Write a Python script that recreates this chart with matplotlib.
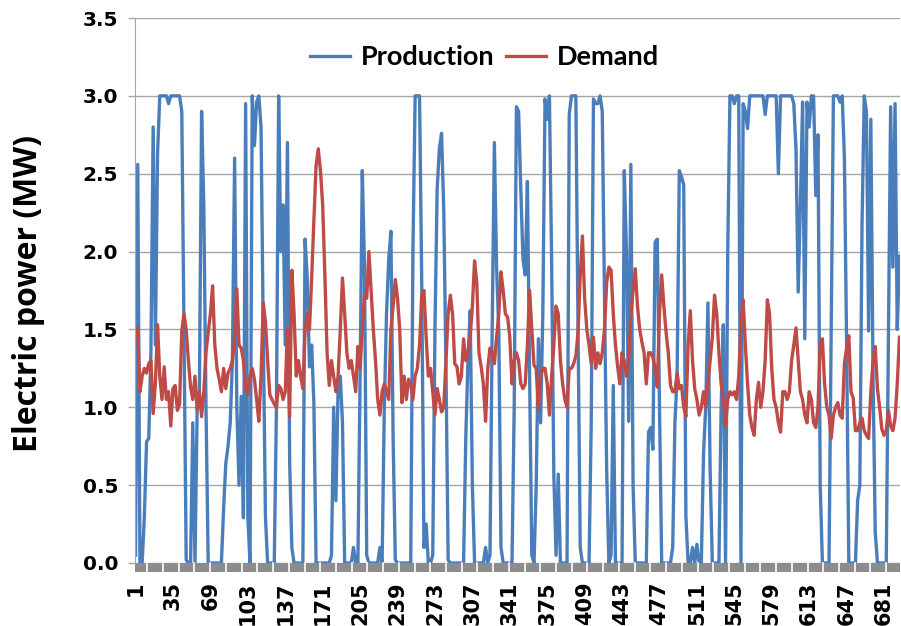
import numpy as np
import matplotlib
matplotlib.use('Agg')
import matplotlib.pyplot as plt
from matplotlib.patches import Rectangle

# hourly readings, every second hour (hours 1, 3, 5, ... 695), MW
production = [
    0.05, 2.56, 0.0, 0.0, 0.3, 0.78, 0.8, 1.37, 2.8, 1.4, 2.63, 3.0, 3.0, 3.0, 3.0, 2.95,
    3.0, 3.0, 3.0, 3.0, 3.0, 2.9, 1.5, 0.02, 0.0, 0.0, 0.9, 0.0, 1.0, 1.1, 2.9, 2.3,
    1.0, 0.0, 0.0, 0.0, 0.0, 0.0, 0.0, 0.0, 0.35, 0.64, 0.75, 0.9, 1.3, 2.6, 1.0, 0.5,
    1.07, 0.29, 2.95, 0.3, 0.0, 3.0, 2.68, 2.96, 3.0,
    2.8, 1.5, 0.3, 0.0, 0.0, 0.0, 0.0, 1.0, 3.0, 2.0, 2.3, 1.4, 2.7, 0.65, 0.1, 0.0,
    0.0, 0.0, 0.0, 0.0, 2.08, 1.83, 1.26, 1.4, 1.03, 0.0, 0.0, 0.0, 0.0, 0.0, 0.0, 0.0,
    0.05, 1.0, 0.4, 1.12, 1.2, 0.9, 0.0, 0.0, 0.0, 0.0, 0.1, 0.0, 0.0, 1.2, 2.52, 1.9,
    0.05, 0.0, 0.0, 0.0, 0.0, 0.0, 0.1, 0.0, 1.0, 1.6, 1.95,
    2.13, 0.8, 0.02, 0.0, 0.0, 0.0, 0.0, 0.0, 0.0, 0.0, 2.0, 3.0, 3.0, 3.0, 1.8, 0.1,
    0.25, 0.0, 0.0, 0.05, 1.5, 2.4, 2.66, 2.76, 2.27, 1.26, 0.02, 0.0, 0.0, 0.0, 0.0, 0.0,
    0.0, 0.0, 0.8, 1.3, 1.62, 0.5, 0.0, 0.0, 0.0, 0.0, 0.0, 0.1, 0.0, 0.05, 1.5, 2.7,
    1.9, 1.49, 0.1, 0.0, 0.0, 0.0, 0.0, 0.0, 1.0, 2.93, 2.9,
    2.4, 1.95, 1.85, 2.45, 1.2, 0.05, 0.0, 0.5, 1.44, 0.9, 1.6, 2.98, 2.85, 3.0, 1.94, 0.57,
    0.05, 0.57, 0.0, 0.0, 0.0, 0.0, 2.88, 3.0, 3.0, 3.0, 1.5, 0.1, 0.0, 0.0, 0.0, 0.0,
    0.91, 2.98, 2.95, 2.95, 3.0, 2.9, 1.72, 0.6, 0.0, 0.05, 1.14, 0.0, 0.0, 0.0, 0.0, 2.52,
    2.0, 0.91, 2.56, 0.5, 0.0, 0.0, 0.0, 0.0, 0.0, 0.0, 0.84,
    0.87, 0.73, 2.06, 2.08, 1.0, 0.0, 0.0, 0.0, 0.0, 0.0, 0.1, 0.9, 1.2, 2.52, 2.48, 2.43,
    0.3, 0.0, 0.0, 0.1, 0.0, 0.12, 0.0, 0.0, 0.7, 1.0, 1.67, 0.6, 0.0, 0.0, 0.0, 0.0,
    1.0, 1.53, 0.0, 2.0, 3.0, 3.0, 2.95, 3.0, 3.0, 0.0, 2.95, 2.9, 2.79, 3.0, 3.0, 3.0,
    3.0, 3.0, 3.0, 3.0, 2.88, 3.0, 3.0, 3.0, 3.0, 3.0, 2.5,
    3.0, 3.0, 3.0, 3.0, 3.0, 3.0, 2.95, 2.66, 1.74, 2.3, 2.96, 1.44, 2.96, 2.8, 3.0, 3.0,
    2.36, 2.75, 0.5, 0.0, 0.0, 0.0, 0.0, 1.5, 3.0, 3.0, 3.0, 2.96, 3.0, 2.6, 1.4, 0.0,
    0.0, 0.0, 0.0, 0.4, 0.5, 2.17, 3.0, 2.9, 1.49, 2.85, 1.2, 0.2, 0.0, 0.0, 0.0, 0.0,
    0.0, 1.5, 2.93, 1.9, 2.95, 1.5, 1.97,
]

demand = [
    1.45, 1.51, 1.1, 1.2, 1.25, 1.22, 1.28, 1.3, 0.96, 1.15, 1.53, 1.2, 1.05, 1.26, 1.05, 1.1,
    0.88, 1.12, 1.14, 0.98, 1.02, 1.49, 1.6, 1.5, 1.3, 1.13, 1.05, 1.2, 0.98, 1.1, 0.94, 1.1,
    1.35, 1.48, 1.6, 1.78, 1.4, 1.25, 1.18, 1.1, 1.25, 1.12, 1.22, 1.25, 1.3, 1.45, 1.76, 1.4,
    1.38, 1.3, 1.12, 1.08, 1.2, 1.25, 1.18, 1.05, 0.91,
    1.2, 1.67, 1.55, 1.3, 1.08, 1.05, 1.02, 1.0, 1.14, 1.12, 1.05, 1.1, 1.5, 0.94, 1.88, 1.6,
    1.2, 1.3, 1.2, 1.12, 1.49, 1.6, 1.5, 1.83, 2.2, 2.55, 2.66, 2.52, 2.3, 1.85, 1.35, 1.14,
    1.3, 1.2, 1.1, 1.2, 1.5, 1.83, 1.6, 1.35, 1.25, 1.3, 1.2, 1.1, 1.39, 1.25, 1.5, 1.72,
    1.7, 2.0, 1.75, 1.5, 1.3, 1.05, 0.95, 1.1, 1.15, 1.1, 1.05,
    1.5, 1.65, 1.82, 1.7, 1.5, 1.03, 1.2, 1.05, 1.18, 1.15, 1.05, 1.2, 1.25, 1.4, 1.72, 1.75,
    1.45, 1.2, 1.25, 1.1, 0.95, 1.12, 1.05, 0.97, 1.0, 1.3, 1.6, 1.72, 1.6, 1.28, 1.26, 1.15,
    1.2, 1.44, 1.3, 1.35, 1.45, 1.65, 1.94, 1.8, 1.35, 1.26, 1.15, 0.91, 1.25, 1.38, 1.35, 1.28,
    1.45, 1.6, 1.87, 1.75, 1.6, 1.58, 1.45, 1.15, 1.3, 1.35, 1.3,
    1.15, 1.12, 1.15, 1.4, 1.75, 1.5, 1.27, 1.25, 0.98, 1.2, 1.25, 1.25, 1.15, 0.95, 1.2, 1.4,
    1.65, 1.6, 1.3, 1.15, 1.05, 1.0, 1.25, 1.25, 1.28, 1.33, 1.48, 1.85, 2.1, 1.7, 1.5, 1.4,
    1.28, 1.45, 1.25, 1.35, 1.28, 1.35, 1.5, 1.8, 1.9, 1.88, 1.6, 1.4, 1.26, 1.15, 1.35, 1.3,
    1.2, 1.3, 1.6, 1.75, 1.89, 1.65, 1.5, 1.42, 1.35, 1.15, 1.35,
    1.35, 1.32, 1.25, 1.13, 1.6, 1.85, 1.65, 1.48, 1.35, 1.14, 1.1, 1.1, 1.22, 1.12, 1.14, 1.0,
    0.94, 1.4, 1.62, 1.3, 1.12, 1.05, 0.95, 1.0, 1.1, 1.0, 1.15, 1.3, 1.45, 1.72, 1.6, 1.35,
    1.15, 1.05, 0.88, 1.05, 1.1, 1.08, 1.1, 1.05, 1.2, 1.55, 1.69, 1.4, 1.15, 0.95, 0.87, 0.82,
    1.05, 1.16, 1.0, 1.1, 1.3, 1.69, 1.6, 1.25, 1.05, 1.0, 0.9,
    0.84, 1.1, 1.1, 1.05, 1.1, 1.3, 1.4, 1.51, 1.3, 1.1, 1.05, 0.95, 0.9, 1.1, 1.05, 0.9,
    0.87, 1.0, 1.41, 1.44, 1.15, 1.0, 0.95, 0.8, 0.95, 1.0, 1.03, 0.95, 0.93, 1.28, 1.38, 1.46,
    1.1, 1.06, 0.85, 0.85, 0.9, 0.93, 0.85, 0.82, 0.8, 1.1, 1.3, 1.39, 1.12, 1.0, 0.86, 0.82,
    0.85, 0.98, 0.88, 0.85, 0.93, 1.15, 1.45,
]

hours_p = np.arange(1, 2 * len(production), 2)
hours_d = np.arange(1, 2 * len(demand), 2)
tick_hours = list(range(1, 682, 34))
y_ticks = [0.0, 0.5, 1.0, 1.5, 2.0, 2.5, 3.0, 3.5]

fig = plt.figure(figsize=(9.01, 6.26), dpi=100)
ax = fig.add_axes([135 / 901, 1 - 563 / 626, 765 / 901, 545 / 626])

ax.plot(hours_p, production, color='#4a7ebb', lw=2.4, label='Production')
ax.plot(hours_d, demand, color='#be4b48', lw=2.4, label='Demand')

ax.set_xlim(0.5, 695.5)
ax.set_ylim(0, 3.5)
ax.set_yticks(y_ticks)
ax.set_yticklabels([f'{v:.1f}' for v in y_ticks], fontsize=14.5, fontweight='bold')
ax.set_xticks(tick_hours)
ax.set_xticklabels([str(h) for h in tick_hours], rotation=90, fontsize=15, fontweight='bold')
ax.tick_params(axis='x', length=0, pad=13)
ax.tick_params(axis='y', length=5, width=1, color='#a6a6a6', pad=7)

ax.yaxis.grid(True, color='#a6a6a6', lw=1)
ax.set_axisbelow(True)
for side in ['top', 'right', 'bottom']:
    ax.spines[side].set_visible(False)
ax.spines['left'].set_color('#a6a6a6')

# gray category band under the zero line
band_h = 9 / 545
ax.add_patch(Rectangle((0, -band_h), 1, band_h, transform=ax.transAxes,
                       clip_on=False, facecolor='#8c8c8c', edgecolor='none'))
for px in np.arange(147.3, 900, 15.72):
    xa = (px - 135) / 765
    ax.plot([xa, xa], [-band_h, 0], transform=ax.transAxes, color='white',
            lw=1.2, clip_on=False)

ax.set_ylabel('Electric power (MW)', fontsize=23, fontweight='bold', family='Open Sans')
ax.yaxis.set_label_coords(-0.117, 0.495)

ax.legend(loc='center', bbox_to_anchor=(0.457, 0.928), ncol=2, frameon=False,
          prop={'family': 'Lato', 'weight': 'bold', 'size': 19.5},
          handlelength=1.5, handletextpad=0.4, columnspacing=0.4)

fig.savefig('out.png', dpi=100)
